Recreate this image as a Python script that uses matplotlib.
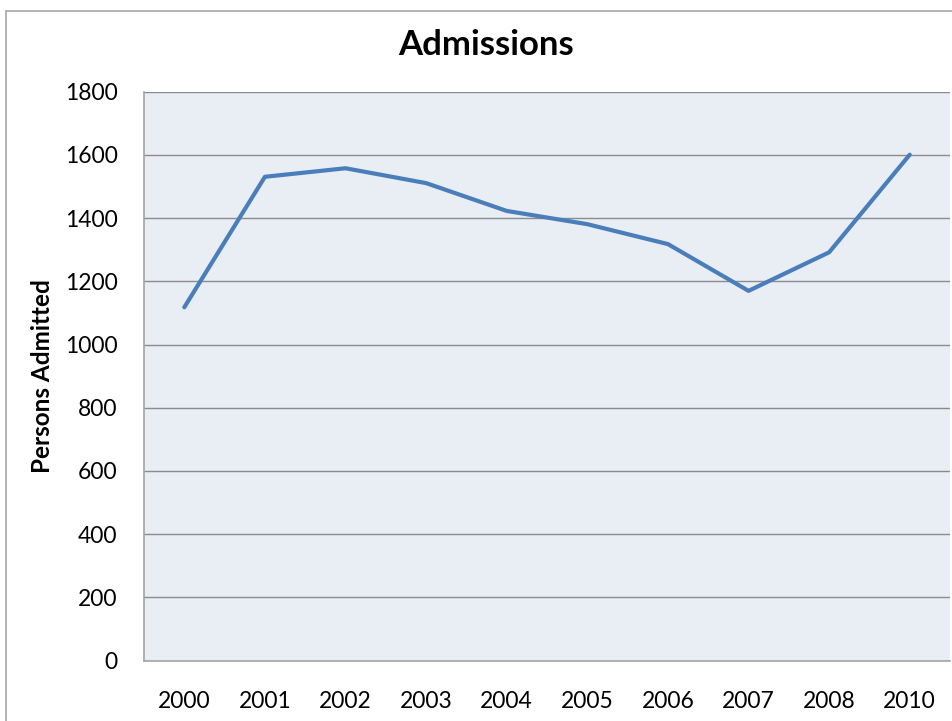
import matplotlib.pyplot as plt
from matplotlib.patches import Rectangle

years = ["2000", "2001", "2002", "2003", "2004", "2005", "2006", "2007", "2008", "2010"]
admitted = [1118, 1531, 1558, 1511, 1423, 1381, 1318, 1170, 1292, 1601]
yticks = [0, 200, 400, 600, 800, 1000, 1200, 1400, 1600, 1800]

plt.rcParams['font.family'] = ['Lato', 'DejaVu Sans']

fig = plt.figure(figsize=(9.53, 7.21), dpi=100)
ax = fig.add_axes([0.1511, 0.0838, 0.8458, 0.7889])

# chart outer border (cropped on right and bottom)
fig.patches.append(Rectangle((6 / 953, -0.1), 1.2, 1.1 - 11 / 721,
                             transform=fig.transFigure, fill=False,
                             edgecolor='#a6a6a6', linewidth=1.2))

ax.set_facecolor('#e9edf4')
x = range(len(years))
ax.plot(x, admitted, color='#4a7ebb', linewidth=3.0, solid_capstyle='round',
        solid_joinstyle='round', zorder=3)

ax.set_xlim(-0.5, len(years) - 0.5)
ax.set_ylim(0, 1800)
ax.set_xticks(list(x))
ax.set_xticklabels(years)
ax.set_yticks(yticks)
ax.yaxis.grid(True, color='#8c8c8c', linewidth=1.0)
ax.set_axisbelow(True)
ax.tick_params(length=0, labelsize=16.5, colors='black')
ax.tick_params(axis='x', pad=22)
ax.tick_params(axis='y', pad=19)

for s in ['top', 'right']:
    ax.spines[s].set_visible(False)
ax.spines['left'].set_color('#a6a6a6')
ax.spines['bottom'].set_color('#a6a6a6')
ax.spines['left'].set_linewidth(1.2)
ax.spines['bottom'].set_linewidth(1.2)

ax.set_ylabel('Persons Admitted', fontsize=17.5, fontweight='bold', labelpad=8)
fig.text(486 / 953, 1 - 45 / 721, 'Admissions', ha='center', va='center',
         fontsize=25, fontweight='bold')

fig.savefig('out.png', dpi=100)
